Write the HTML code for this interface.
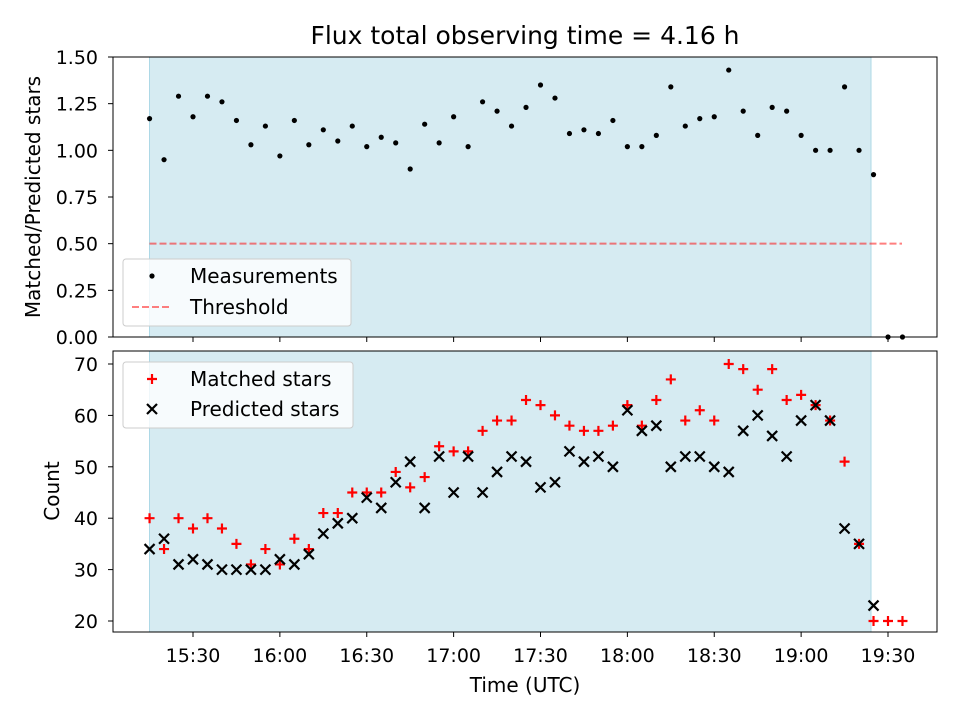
<!DOCTYPE html>
<html><head><meta charset="utf-8"><style>
body{margin:0;background:#fff}
svg{display:block;font-family:"DejaVu Sans","Liberation Sans",sans-serif}
</style></head><body>
<svg id="c" width="960" height="720" viewBox="0 0 960 720"></svg>
<script>
const ratio=[1.17,0.95,1.29,1.18,1.29,1.26,1.16,1.03,1.13,0.97,1.16,1.03,1.11,1.05,1.13,1.02,1.07,1.04,0.90,1.14,1.04,1.18,1.02,1.26,1.21,1.13,1.23,1.35,1.28,1.09,1.11,1.09,1.16,1.02,1.02,1.08,1.34,1.13,1.17,1.18,1.43,1.21,1.08,1.23,1.21,1.08,1.00,1.00,1.34,1.00,0.87,0,0];
const matched=[40,34,40,38,40,38,35,31,34,31,36,34,41,41,45,45,45,49,46,48,54,53,53,57,59,59,63,62,60,58,57,57,58,62,58,63,67,59,61,59,70,69,65,69,63,64,62,59,51,35,20,20,20];
const predicted=[34,36,31,32,31,30,30,30,30,32,31,33,37,39,40,44,42,47,51,42,52,45,52,45,49,52,51,46,47,53,51,52,50,61,57,58,50,52,52,50,49,57,60,56,52,59,62,59,38,35,23];
const startMin=15*60+15, stepMin=5;
const xTicks=["15:30","16:00","16:30","17:00","17:30","18:00","18:30","19:00","19:30"];
const topTicks=["0.00","0.25","0.50","0.75","1.00","1.25","1.50"];
const botTicks=[20,30,40,50,60,70];
const threshold=0.5;

const NS="http://www.w3.org/2000/svg";
const svg=document.getElementById('c');
function mk(t,a,p){const e=document.createElementNS(NS,t);for(const k in a)e.setAttribute(k,a[k]);(p||svg).appendChild(e);return e;}
const L=113,R=937;
const xs=m=>193+(m-(15*60+30))*(695/240);
const yTop=v=>337-v*(280/1.5);
const yBot=v=>621-(v-20)*(257/50);
const tmin=s=>{const [h,m]=s.split(':').map(Number);return h*60+m;};
const TF=19, LF=20;

[[57,337,'top'],[351,632,'bottom']].forEach(([t,b,n])=>{
  const g=mk('g',{});
  
  
  const sh=mk('rect',{x:149.5,y:t,width:871-149.5,height:b-t,fill:'#add8e6','fill-opacity':0.5},g);
  
  
  mk('line',{x1:149.5,y1:t,x2:149.5,y2:b,stroke:'#add8e6','stroke-width':1},g);
  mk('line',{x1:871,y1:t,x2:871,y2:b,stroke:'#add8e6','stroke-width':1},g);
});

const th=mk('line',{x1:149.5,x2:902,y1:yTop(threshold),y2:yTop(threshold),stroke:'#f00','stroke-opacity':0.5,'stroke-width':2,'stroke-dasharray':'7,3'});



ratio.forEach((v,i)=>{
  const c=mk('circle',{cx:xs(startMin+i*stepMin),cy:yTop(v),r:2.6,fill:'#000'});
  
  
});
matched.forEach((v,i)=>{
  const x=xs(startMin+i*stepMin),y=yBot(v);
  const p=mk('path',{d:`M${x-5} ${y}H${x+5}M${x} ${y-5}V${y+5}`,stroke:'#f00','stroke-width':2.2});
  
  
});
predicted.forEach((v,i)=>{
  const x=xs(startMin+i*stepMin),y=yBot(v);
  const p=mk('path',{d:`M${x-5} ${y-5}L${x+5} ${y+5}M${x-5} ${y+5}L${x+5} ${y-5}`,stroke:'#000','stroke-width':2.2});
  
  
});

[[57,337],[351,632]].forEach(([t,b],k)=>{
  mk('rect',{x:L,y:t,width:R-L,height:b-t,fill:'none',stroke:'#000','stroke-width':1});
  xTicks.forEach(s=>{
    const x=xs(tmin(s));
    mk('line',{x1:x,x2:x,y1:b,y2:b+5,stroke:'#000'});
    if(k===1){
      const tx=mk('text',{x:x,y:b+30,'font-size':TF,'text-anchor':'middle'});
      tx.textContent=s;
      
      
    }
  });
});
topTicks.forEach(s=>{
  const y=yTop(parseFloat(s));
  mk('line',{x1:L-5,x2:L,y1:y,y2:y,stroke:'#000'});
  const tx=mk('text',{x:L-15,y:y+7,'font-size':TF,'text-anchor':'end'});
  tx.textContent=s;
  
  
});
botTicks.forEach(v=>{
  const y=yBot(v);
  mk('line',{x1:L-5,x2:L,y1:y,y2:y,stroke:'#000'});
  const tx=mk('text',{x:L-15,y:y+7,'font-size':TF,'text-anchor':'end'});
  tx.textContent=v;
  
  
});

function text(s,a,name){const t=mk('text',a);t.textContent=s;return t;}
text('Flux total observing time = 4.16 h',{x:525,y:44,'font-size':25,'text-anchor':'middle'},'chart-title');
text('Time (UTC)',{x:525,y:692,'font-size':LF,'text-anchor':'middle'},'x-axis-title');
text('Count',{x:0,y:0,'font-size':LF,'text-anchor':'middle',transform:'translate(59,491) rotate(-90)'},'y-axis-title-bottom');
text('Matched/Predicted stars',{x:0,y:0,'font-size':LF,'text-anchor':'middle',transform:'translate(40,197) rotate(-90)'},'y-axis-title-top');

function legendBox(x,y,w,h,name){const r=mk('rect',{x,y,width:w,height:h,rx:3,fill:'#fff','fill-opacity':0.8,stroke:'#ccc'});}
legendBox(123,259,228,67,'legend-top');
mk('circle',{cx:152,cy:276,r:2.6,fill:'#000'});
text('Measurements',{x:190,y:283,'font-size':LF},'legend-entry-measurements');
mk('line',{x1:132,x2:172,y1:307,y2:307,stroke:'#f00','stroke-opacity':0.5,'stroke-width':2,'stroke-dasharray':'7,3'});
text('Threshold',{x:190,y:314,'font-size':LF},'legend-entry-threshold');

legendBox(123,362,230,66,'legend-bottom');
mk('path',{d:'M147 379H157M152 374V384',stroke:'#f00','stroke-width':2.2});
text('Matched stars',{x:190,y:386,'font-size':LF},'legend-entry-matched');
mk('path',{d:'M147 404L157 414M147 414L157 404',stroke:'#000','stroke-width':2.2});
text('Predicted stars',{x:190,y:416,'font-size':LF},'legend-entry-predicted');
</script>
</body></html>
